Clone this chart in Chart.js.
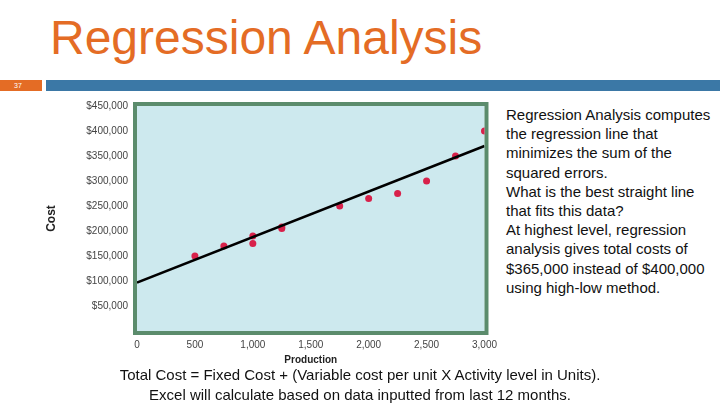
<!DOCTYPE html>
<html>
<head>
<meta charset="utf-8">
<script src="https://cdn.jsdelivr.net/npm/chart.js@4"></script>
<style>
  body { margin: 0; width: 720px; height: 405px; background: #fff; position: relative; overflow: hidden; font-family: "Liberation Sans", Arial, sans-serif; }
  #title { position: absolute; left: 50px; top: 10px; font-size: 48px; color: #E46C25; }
  #num { position: absolute; left: 0; top: 80px; width: 42px; height: 11px; background: #E46C25; color: #fff; font-size: 7px; line-height: 11px; padding-left: 14px; box-sizing: border-box; }
  #bar { position: absolute; left: 46px; top: 80px; width: 674px; height: 11px; background: #3B78A6; }
  #wrap { position: absolute; left: 40px; top: 96px; width: 460px; height: 270px; }
  #side { position: absolute; left: 506px; top: 105px; width: 205px; font-size: 15px; line-height: 19.2px; color: #111; }
  #foot { position: absolute; left: 0; width: 720px; top: 365px; text-align: center; font-size: 15px; line-height: 19.5px; color: #111; }
</style>
</head>
<body>
<div id="title">Regression Analysis</div>
<div id="num">37</div>
<div id="bar"></div>
<div id="wrap"><canvas id="chart"></canvas></div>
<div id="side">Regression Analysis computes the regression line that minimizes the sum of the squared errors.<br>What is the best straight line that fits this data?<br>At highest level, regression analysis gives total costs of $365,000 instead of $400,000 using high-low method.</div>
<div id="foot">Total Cost = Fixed Cost + (Variable cost per unit X Activity level in Units).<br>Excel will calculate based on data inputted from last 12 months.</div>
<script>
var production = [500, 750, 1000, 1000, 1250, 1250, 1750, 2000, 2250, 2500, 2750, 3000];
var cost = [150000, 170000, 190000, 175000, 205000, 208000, 250000, 265000, 275000, 300000, 350000, 400000];
var lineX = [0, 3000];
var lineY = [97000, 370000];

var points = production.map(function (x, i) { return { x: x, y: cost[i] }; });
var line = lineX.map(function (x, i) { return { x: x, y: lineY[i] }; });

var plotBg = {
  id: 'plotBg',
  beforeDraw: function (chart) {
    var a = chart.chartArea, c = chart.ctx;
    c.save();
    c.fillStyle = '#cde9ee';
    c.fillRect(a.left, a.top, a.right - a.left, a.bottom - a.top);
    c.lineWidth = 4;
    c.strokeStyle = '#5b8c6c';
    c.strokeRect(a.left - 2, a.top - 2, a.right - a.left + 4, a.bottom - a.top + 4);
    c.restore();
  }
};

new Chart(document.getElementById('chart'), {
  type: 'scatter',
  data: {
    datasets: [{
      type: 'line',
      data: line,
      borderColor: '#000',
      borderWidth: 2.5,
      pointRadius: 0
    }, {
      data: points,
      backgroundColor: '#d8214a',
      borderWidth: 0,
      pointRadius: 3.5
    }]
  },
  options: {
    animation: false,
    responsive: true,
    maintainAspectRatio: false,
    layout: { padding: { top: 10, right: 8 } },
    plugins: { legend: { display: false }, tooltip: { enabled: false } },
    scales: {
      x: {
        min: 0, max: 3000,
        grid: { display: false, drawTicks: true, tickLength: 5, tickColor: '#888' },
        border: { display: false },
        ticks: { stepSize: 500, color: '#444', font: { size: 10 }, maxRotation: 0,
          callback: function (v) { return v === 0 ? '0' : v.toLocaleString('en-US'); } },
        title: { display: true, text: 'Production', color: '#222', font: { size: 10, weight: 'bold' }, padding: 0 }
      },
      y: {
        min: 0, max: 450000,
        afterFit: function (s) { s.width = 97; },
        grid: { display: false, drawTicks: true, tickLength: 6, tickColor: '#888' },
        border: { display: false },
        ticks: { stepSize: 50000, color: '#444', font: { size: 10 },
          callback: function (v) { return v === 0 ? '' : '$' + v.toLocaleString('en-US'); } },
        title: { display: true, text: 'Cost', color: '#222', font: { size: 12, weight: 'bold' }, padding: 4 }
      }
    }
  },
  plugins: [plotBg]
});
</script>
</body>
</html>
